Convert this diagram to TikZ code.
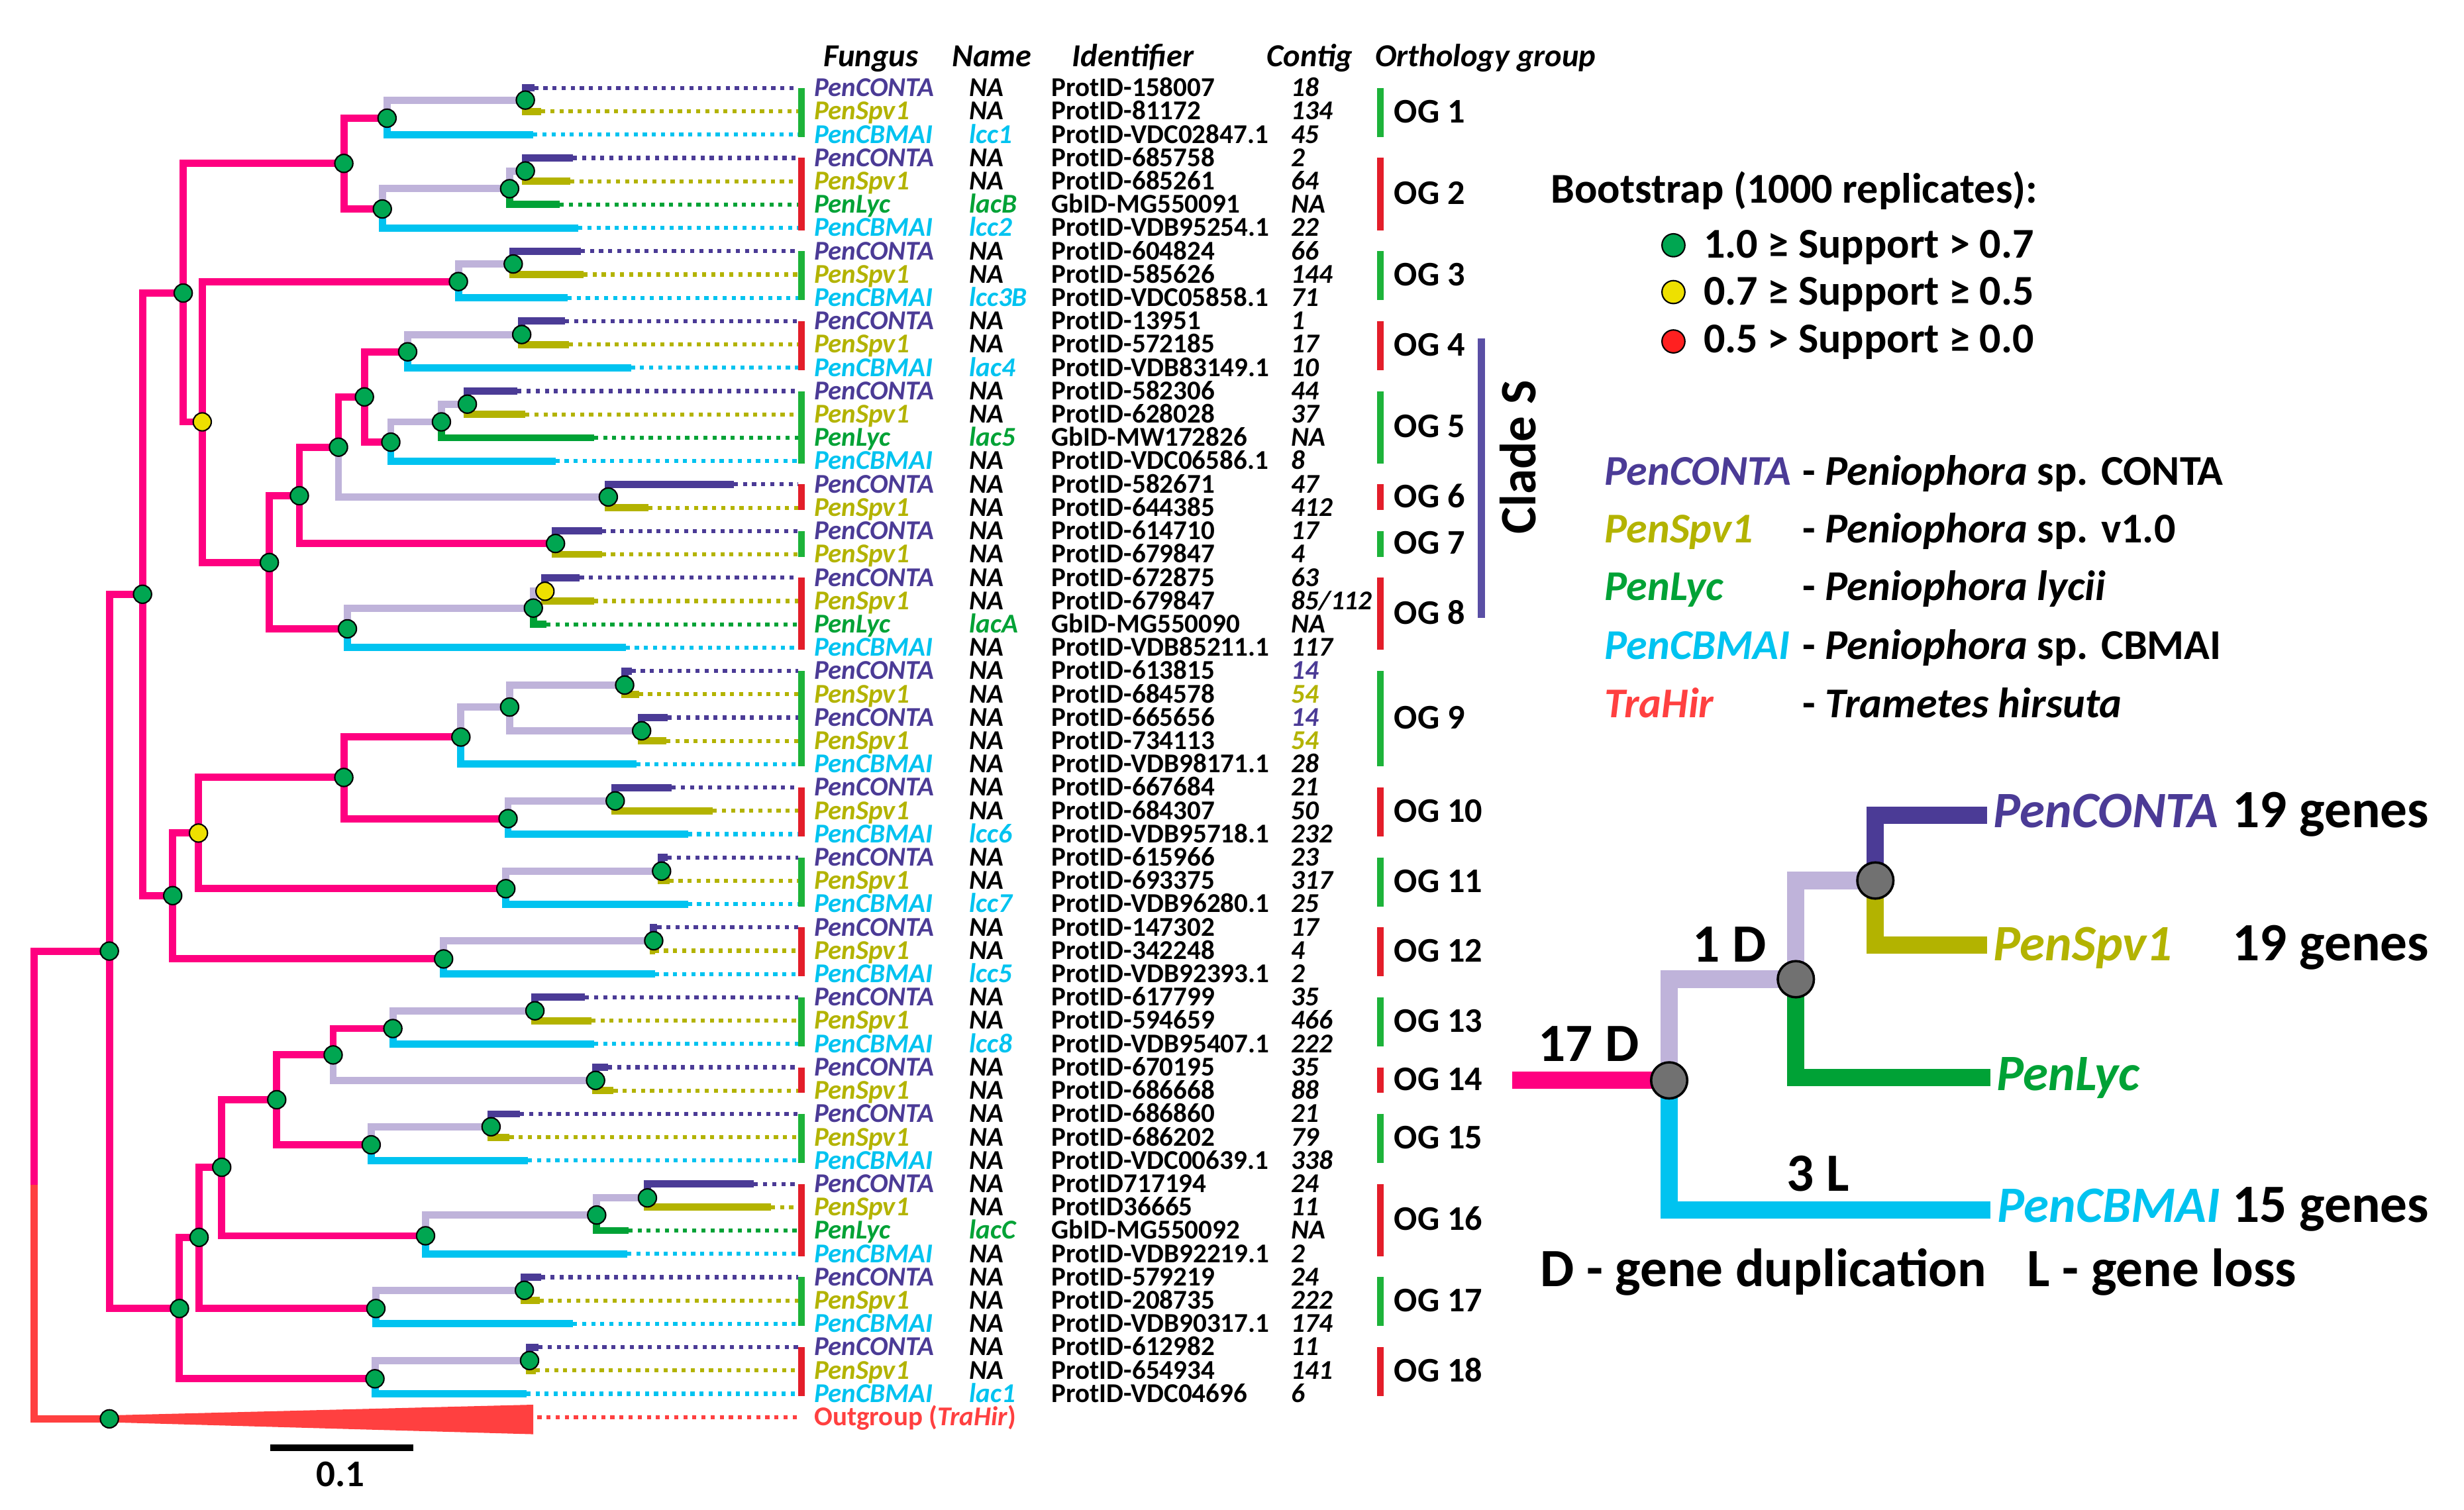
\documentclass[tikz,border=0pt]{standalone}
\usepackage{fontspec}
\setmainfont{Carlito}
\definecolor{cpink}{HTML}{FF0080}
\definecolor{clav}{HTML}{BFB3DA}
\definecolor{ccon}{HTML}{4B3B96}
\definecolor{cspv}{HTML}{B3B300}
\definecolor{clyc}{HTML}{00A236}
\definecolor{ccb}{HTML}{00C3F0}
\definecolor{cout}{HTML}{FF4040}
\definecolor{ngreen}{HTML}{00A651}
\definecolor{nyellow}{HTML}{EEE000}
\definecolor{nred}{HTML}{FF2020}
\definecolor{bgreen}{HTML}{1DB33A}
\definecolor{bred}{HTML}{E31E2A}
\definecolor{cclade}{HTML}{5A4FA5}
\definecolor{ngrey}{HTML}{717171}
\newcommand\fsz[1]{\fontsize{#1pt}{#1pt}\selectfont\bfseries}
\pgfmathdeclarefunction{ry}{1}{\pgfmathparse{56+14.84*#1}}
\tikzset{
  br/.style={line width=4.6pt},
  dotl/.style={line width=2.6pt, dash pattern=on 2.6pt off 3.2pt},
  bsn/.style={circle, draw=black, line width=0.9pt, minimum size=11.5pt, inner sep=0pt, fill=ngreen},
  bsy/.style={bsn, fill=nyellow},
  tt/.style={font=\fsz{17.3}, anchor=base west, inner sep=0pt},
  tti/.style={font=\fsz{17.3}\itshape, anchor=base west, inner sep=0pt},
  hdr/.style={font=\fsz{20.4}\itshape, anchor=base west, inner sep=0pt},
  oglab/.style={font=\fsz{22}, anchor=base west, inner sep=0pt},
  ogbar/.style={line width=4pt},
  lgd/.style={font=\fsz{27}, anchor=base west, inner sep=0pt},
  big/.style={font=\fsz{32.5}, inner sep=0pt},
  bigger/.style={font=\fsz{34.3}, inner sep=0pt},
  thick br/.style={line width=11pt},
  gnode/.style={circle, draw=black, line width=1.5pt, minimum size=23pt, inner sep=0pt, fill=ngrey},
}
\newcommand\trow[6]{%
  \node[tti, text=#2] (fu#1) at (518,{ry(#1)+5.4}) {#3};
  \node[tti] (na#1) at (616.7,{ry(#1)+5.4}) {#4};
  \node[tt] (id#1) at (669,{ry(#1)+5.4}) {#5};
  \node[tti] (co#1) at (821.6,{ry(#1)+5.4}) {#6};}
\newcommand\rc[4]{\trow{#1}{ccon}{PenCONTA}{#2}{#3}{#4}}
\newcommand\rs[4]{\trow{#1}{cspv}{PenSpv1}{#2}{#3}{#4}}
\newcommand\rl[4]{\trow{#1}{clyc}{PenLyc}{#2}{#3}{#4}}
\newcommand\rb[4]{\trow{#1}{ccb}{PenCBMAI}{#2}{#3}{#4}}
\newcommand\tip[4]{%
  \coordinate (t#1) at (#3,{ry(#1)});
  \draw[br,#4] (#2) |- (t#1);
  \draw[dotl,#4] (t#1) -- (t#1 -| lb);}
\newcommand\edge[3]{\draw[br,#3] (#1) |- (#2);}
\begin{document}
\begin{tikzpicture}[x=1pt,y=-1pt]
\useasboundingbox (0,0) rectangle (1568,961);
\fill[white] (0,0) rectangle (1568,961);
\coordinate (lb) at (508,0);
% internal coordinates
\coordinate (R) at (21.8,754);
\coordinate (IN) at (69.6,605.3);
\coordinate (OUTN) at (69.6,903);
\coordinate (A1) at (90.7,378.2);
\coordinate (A2) at (109.9,570);
\coordinate (B1) at (116.6,186.5);
\coordinate (C1) at (218.8,104);
\coordinate (OG1r) at (246.3,75.2);
\coordinate (OG1i) at (334.3,63.7);
\coordinate (OG2r) at (243.3,133);
\coordinate (OG2a) at (324.3,120.1);
\coordinate (OG2b) at (334.3,108.8);
\coordinate (Y1) at (128.7,268.5);
\coordinate (OG3r) at (291.7,179.2);
\coordinate (OG3i) at (326.6,168);
\coordinate (D1) at (171.4,358);
\coordinate (D2) at (190.5,315.5);
\coordinate (D3) at (215.4,284.6);
\coordinate (D4) at (231.9,252.6);
\coordinate (OG4r) at (259.4,223.9);
\coordinate (OG4i) at (332,212.9);
\coordinate (OG5r) at (248.7,281.4);
\coordinate (OG5a) at (280.9,268.5);
\coordinate (OG5b) at (297.4,257.2);
\coordinate (OG6) at (387.1,316.3);
\coordinate (OG7) at (353.5,345.9);
\coordinate (OG8r) at (221.1,400.2);
\coordinate (OG8a) at (339.4,387);
\coordinate (OG8b) at (346.8,376.3);
\coordinate (Y2) at (126.3,530.2);
\coordinate (E1) at (218.8,494.8);
\coordinate (OG9r) at (293.3,469.1);
\coordinate (OG9a) at (324.3,450);
\coordinate (OG9b) at (397.5,436);
\coordinate (OG9c) at (408.3,465.1);
\coordinate (OG10r) at (323.3,521);
\coordinate (OG10i) at (391.5,509.7);
\coordinate (OG11r) at (321.9,565.6);
\coordinate (OG11i) at (421,554.4);
\coordinate (OG12r) at (282.3,610.3);
\coordinate (OG12i) at (416,598.7);
\coordinate (A3) at (114.2,832.8);
\coordinate (A4) at (126.7,787.5);
\coordinate (A5) at (141.1,742.9);
\coordinate (A6) at (176.1,699.9);
\coordinate (A7) at (212,671.4);
\coordinate (OG13r) at (250,654.6);
\coordinate (OG13i) at (340.4,643.3);
\coordinate (OG14) at (379,687.6);
\coordinate (OG15r) at (236.2,728.6);
\coordinate (OG15i) at (312.5,717.1);
\coordinate (OG16r) at (270.8,786.5);
\coordinate (OG16a) at (379.7,773.3);
\coordinate (OG16b) at (412,762.4);
\coordinate (OG17r) at (239.2,832.8);
\coordinate (OG17i) at (333.7,821.2);
\coordinate (OG18r) at (238.6,877.5);
\coordinate (OG18i) at (337,865.9);
% root and outgroup
\edge{R}{IN}{cpink}
\edge{R}{OUTN}{cout}
\fill[cout] (69.6,900.8) -- (339.4,894) -- (339.4,912.8) -- (69.6,905.2) -- cycle;
\coordinate (tout) at (342,{ry(57)});
\draw[dotl,cout] (tout) -- (tout -| lb);
% internal edges
\edge{IN}{A1}{cpink} \edge{IN}{A3}{cpink}
\edge{A1}{B1}{cpink} \edge{A1}{A2}{cpink}
\edge{B1}{C1}{cpink} \edge{B1}{Y1}{cpink}
\edge{C1}{OG1r}{cpink} \edge{C1}{OG2r}{cpink}
\edge{OG1r}{OG1i}{clav}
\edge{OG2r}{OG2a}{clav} \edge{OG2a}{OG2b}{clav}
\edge{Y1}{OG3r}{cpink} \edge{Y1}{D1}{cpink}
\edge{OG3r}{OG3i}{clav}
\edge{D1}{D2}{cpink} \edge{D1}{OG8r}{cpink}
\edge{D2}{D3}{cpink} \edge{D2}{OG7}{cpink}
\edge{D3}{D4}{cpink} \edge{D3}{OG6}{clav}
\edge{D4}{OG4r}{cpink} \edge{D4}{OG5r}{cpink}
\edge{OG4r}{OG4i}{clav}
\edge{OG5r}{OG5a}{clav} \edge{OG5a}{OG5b}{clav}
\edge{OG8r}{OG8a}{clav} \edge{OG8a}{OG8b}{clav}
\edge{A2}{Y2}{cpink} \edge{A2}{OG12r}{cpink}
\edge{Y2}{E1}{cpink} \edge{Y2}{OG11r}{cpink}
\edge{E1}{OG9r}{cpink} \edge{E1}{OG10r}{cpink}
\edge{OG9r}{OG9a}{clav} \edge{OG9a}{OG9b}{clav} \edge{OG9a}{OG9c}{clav}
\edge{OG10r}{OG10i}{clav}
\edge{OG11r}{OG11i}{clav}
\edge{OG12r}{OG12i}{clav}
\edge{A3}{A4}{cpink} \edge{A3}{OG18r}{cpink}
\edge{A4}{A5}{cpink} \edge{A4}{OG17r}{cpink}
\edge{A5}{A6}{cpink} \edge{A5}{OG16r}{cpink}
\edge{A6}{A7}{cpink} \edge{A6}{OG15r}{cpink}
\edge{A7}{OG13r}{cpink} \edge{A7}{OG14}{clav}
\edge{OG13r}{OG13i}{clav}
\edge{OG15r}{OG15i}{clav}
\edge{OG16r}{OG16a}{clav} \edge{OG16a}{OG16b}{clav}
\edge{OG17r}{OG17i}{clav}
\edge{OG18r}{OG18i}{clav}
% tips
\tip{0}{OG1i}{340}{ccon} \tip{1}{OG1i}{344.4}{cspv} \tip{2}{OG1r}{339.4}{ccb}
\tip{3}{OG2b}{364.6}{ccon} \tip{4}{OG2b}{362.9}{cspv} \tip{5}{OG2a}{356.2}{clyc} \tip{6}{OG2r}{368}{ccb}
\tip{7}{OG3i}{369.6}{ccon} \tip{8}{OG3i}{371.3}{cspv} \tip{9}{OG3r}{361.2}{ccb}
\tip{10}{OG4i}{359.5}{ccon} \tip{11}{OG4i}{362.2}{cspv} \tip{12}{OG4r}{401.5}{ccb}
\tip{13}{OG5b}{329.3}{ccon} \tip{14}{OG5b}{334.3}{cspv} \tip{15}{OG5a}{378}{clyc} \tip{16}{OG5r}{353.5}{ccb}
\tip{17}{OG6}{467}{ccon} \tip{18}{OG6}{412.6}{cspv}
\tip{19}{OG7}{383}{ccon} \tip{20}{OG7}{383}{cspv}
\tip{21}{OG8b}{369}{ccon} \tip{22}{OG8b}{378}{cspv} \tip{23}{OG8a}{347.8}{clyc} \tip{24}{OG8r}{398.2}{ccb}
\tip{25}{OG9b}{402}{ccon} \tip{26}{OG9b}{406.6}{cspv} \tip{27}{OG9c}{425}{ccon} \tip{28}{OG9c}{424}{cspv} \tip{29}{OG9r}{404.9}{ccb}
\tip{30}{OG10i}{427.4}{ccon} \tip{31}{OG10i}{453.6}{cspv} \tip{32}{OG10r}{437.8}{ccb}
\tip{33}{OG11i}{425}{ccon} \tip{34}{OG11i}{426}{cspv} \tip{35}{OG11r}{437.8}{ccb}
\tip{36}{OG12i}{418.3}{ccon} \tip{37}{OG12i}{416.7}{cspv} \tip{38}{OG12r}{416.7}{ccb}
\tip{39}{OG13i}{372.3}{ccon} \tip{40}{OG13i}{376.3}{cspv} \tip{41}{OG13r}{378}{ccb}
\tip{42}{OG14}{387}{ccon} \tip{43}{OG14}{390.5}{cspv}
\tip{44}{OG15i}{331}{ccon} \tip{45}{OG15i}{324.3}{cspv} \tip{46}{OG15r}{336}{ccb}
\tip{47}{OG16b}{479.8}{ccon} \tip{48}{OG16b}{490.6}{cspv} \tip{49}{OG16a}{399.9}{clyc} \tip{50}{OG16r}{399.2}{ccb}
\tip{51}{OG17i}{344.4}{ccon} \tip{52}{OG17i}{343.4}{cspv} \tip{53}{OG17r}{364.6}{ccb}
\tip{54}{OG18i}{342.7}{ccon} \tip{55}{OG18i}{341}{cspv} \tip{56}{OG18r}{335}{ccb}
% support nodes
\foreach \p in {IN,OUTN,A1,A2,B1,C1,OG1r,OG1i,OG2r,OG2a,OG2b,OG3r,OG3i,D1,D2,D3,D4,OG4r,OG4i,OG5r,OG5a,OG5b,OG6,OG7,OG8r,OG8a,E1,OG9r,OG9a,OG9b,OG9c,OG10r,OG10i,OG11r,OG11i,OG12r,OG12i,A3,A4,A5,A6,A7,OG13r,OG13i,OG14,OG15r,OG15i,OG16r,OG16a,OG16b,OG17r,OG17i,OG18r,OG18i}
  \node[bsn] (n-\p) at (\p) {};
\foreach \p in {Y1,Y2,OG8b}
  \node[bsy] (n-\p) at (\p) {};
% scale bar
\coordinate (sb1) at (172,921.5); \coordinate (sb2) at (263,921.5);
\draw[line width=4pt] (sb1) -- (sb2);
\node[font=\fsz{24}, anchor=base, inner sep=0pt] (sbl) at (216.7,946) {0.1};
% headers
\node[hdr] (h1) at (524,42.2) {Fungus};
\node[hdr] (h2) at (605.7,42.2) {Name};
\node[hdr] (h3) at (682.2,42.2) {Identifier};
\node[hdr] (h4) at (806,42.2) {Contig};
\node[hdr] (h5) at (875,42.2) {Orthology group};
% table
\rc{0}{NA}{ProtID-158007}{18}
\rs{1}{NA}{ProtID-81172}{134}
\rb{2}{\textcolor{ccb}{lcc1}}{ProtID-VDC02847.1}{45}
\rc{3}{NA}{ProtID-685758}{2}
\rs{4}{NA}{ProtID-685261}{64}
\rl{5}{\textcolor{clyc}{lacB}}{GbID-MG550091}{NA}
\rb{6}{\textcolor{ccb}{lcc2}}{ProtID-VDB95254.1}{22}
\rc{7}{NA}{ProtID-604824}{66}
\rs{8}{NA}{ProtID-585626}{144}
\rb{9}{\textcolor{ccb}{lcc3B}}{ProtID-VDC05858.1}{71}
\rc{10}{NA}{ProtID-13951}{1}
\rs{11}{NA}{ProtID-572185}{17}
\rb{12}{\textcolor{ccb}{lac4}}{ProtID-VDB83149.1}{10}
\rc{13}{NA}{ProtID-582306}{44}
\rs{14}{NA}{ProtID-628028}{37}
\rl{15}{\textcolor{clyc}{lac5}}{GbID-MW172826}{NA}
\rb{16}{NA}{ProtID-VDC06586.1}{8}
\rc{17}{NA}{ProtID-582671}{47}
\rs{18}{NA}{ProtID-644385}{412}
\rc{19}{NA}{ProtID-614710}{17}
\rs{20}{NA}{ProtID-679847}{4}
\rc{21}{NA}{ProtID-672875}{63}
\rs{22}{NA}{ProtID-679847}{85/112}
\rl{23}{\textcolor{clyc}{lacA}}{GbID-MG550090}{NA}
\rb{24}{NA}{ProtID-VDB85211.1}{117}
\rc{25}{NA}{ProtID-613815}{\textcolor{ccon}{14}}
\rs{26}{NA}{ProtID-684578}{\textcolor{cspv}{54}}
\rc{27}{NA}{ProtID-665656}{\textcolor{ccon}{14}}
\rs{28}{NA}{ProtID-734113}{\textcolor{cspv}{54}}
\rb{29}{NA}{ProtID-VDB98171.1}{28}
\rc{30}{NA}{ProtID-667684}{21}
\rs{31}{NA}{ProtID-684307}{50}
\rb{32}{\textcolor{ccb}{lcc6}}{ProtID-VDB95718.1}{232}
\rc{33}{NA}{ProtID-615966}{23}
\rs{34}{NA}{ProtID-693375}{317}
\rb{35}{\textcolor{ccb}{lcc7}}{ProtID-VDB96280.1}{25}
\rc{36}{NA}{ProtID-147302}{17}
\rs{37}{NA}{ProtID-342248}{4}
\rb{38}{\textcolor{ccb}{lcc5}}{ProtID-VDB92393.1}{2}
\rc{39}{NA}{ProtID-617799}{35}
\rs{40}{NA}{ProtID-594659}{466}
\rb{41}{\textcolor{ccb}{lcc8}}{ProtID-VDB95407.1}{222}
\rc{42}{NA}{ProtID-670195}{35}
\rs{43}{NA}{ProtID-686668}{88}
\rc{44}{NA}{ProtID-686860}{21}
\rs{45}{NA}{ProtID-686202}{79}
\rb{46}{NA}{ProtID-VDC00639.1}{338}
\rc{47}{NA}{ProtID717194}{24}
\rs{48}{NA}{ProtID36665}{11}
\rl{49}{\textcolor{clyc}{lacC}}{GbID-MG550092}{NA}
\rb{50}{NA}{ProtID-VDB92219.1}{2}
\rc{51}{NA}{ProtID-579219}{24}
\rs{52}{NA}{ProtID-208735}{222}
\rb{53}{NA}{ProtID-VDB90317.1}{174}
\rc{54}{NA}{ProtID-612982}{11}
\rs{55}{NA}{ProtID-654934}{141}
\rb{56}{\textcolor{ccb}{lac1}}{ProtID-VDC04696}{6}
\node[tt, text=cout] (fu57) at (518,{ry(57)+5.4}) {Outgroup (\textit{TraHir})};
% orthology group bars
\foreach \g/\a/\b/\c in {1/0/2/bgreen,2/3/6/bred,3/7/9/bgreen,4/10/12/bred,5/13/16/bgreen,6/17/18/bred,7/19/20/bgreen,8/21/24/bred,9/25/29/bgreen,10/30/32/bred,11/33/35/bgreen,12/36/38/bred,13/39/41/bgreen,14/42/43/bred,15/44/46/bgreen,16/47/50/bred,17/51/53/bgreen,18/54/56/bred}{
  \draw[ogbar,\c] (510,{ry(\a)}) -- (510,{ry(\b)+1.5});
  \draw[ogbar,\c] (878.5,{ry(\a)}) -- (878.5,{ry(\b)+1.5});
  \node[oglab] (og\g) at (887,{(ry(\a)+ry(\b))/2+7.3}) {OG \g};
}
% clade S
\draw[line width=4.4pt, cclade] (942.6,215.3) -- (942.6,393.2);
\node[font=\fsz{32.5}, rotate=90, inner sep=0pt] (clade) at (966,291) {Clade S};
% bootstrap legend
\node[lgd] (bst) at (986.7,129) {Bootstrap (1000 replicates):};
\node[bsn, minimum size=14.6pt] (lg1) at (1064.9,156.1) {};
\node[bsn, minimum size=14.6pt, fill=nyellow] (lg2) at (1064.9,185.9) {};
\node[bsn, minimum size=14.6pt, fill=nred] (lg3) at (1064.9,217.3) {};
\node[lgd] (lt1) at (1084,164.1) {1.0 ≥ Support > 0.7};
\node[lgd] (lt2) at (1084,193.9) {0.7 ≥ Support ≥ 0.5};
\node[lgd] (lt3) at (1084,224.6) {0.5 > Support ≥ 0.0};
% species legend
\node[lgd, text=ccon] (sp1) at (1021,308.8) {\itshape PenCONTA};
\node[lgd] (sd1) at (1147,308.8) {- \textit{Peniophora} sp. CONTA};
\node[lgd, text=cspv] (sp2) at (1021,345.6) {\itshape PenSpv1};
\node[lgd] (sd2) at (1147,345.6) {- \textit{Peniophora} sp. v1.0};
\node[lgd, text=clyc] (sp3) at (1021,381.9) {\itshape PenLyc};
\node[lgd] (sd3) at (1147,381.9) {- \textit{Peniophora lycii}};
\node[lgd, text=ccb] (sp4) at (1021,419.4) {\itshape PenCBMAI};
\node[lgd] (sd4) at (1147,419.4) {- \textit{Peniophora} sp. CBMAI};
\node[lgd, text=cout] (sp5) at (1021,456.9) {\itshape TraHir};
\node[lgd] (sd5) at (1147,456.9) {- \textit{Trametes hirsuta}};
% species tree
\coordinate (s0) at (962.2,687.6);
\coordinate (s1) at (1062.2,687.6);
\coordinate (s2) at (1142.8,623.2);
\coordinate (s3) at (1193.4,560.4);
\coordinate (sCON) at (1264.6,518.9);
\coordinate (sSPV) at (1264.6,601.6);
\coordinate (sLYC) at (1266.5,685.8);
\coordinate (sCB) at (1266.5,770.2);
\draw[thick br, cpink] (s0) -- (s1);
\draw[thick br, clav] (s1) |- (s2);
\draw[thick br, ccb] (s1) |- (sCB);
\draw[thick br, clav] (s2) |- (s3);
\draw[thick br, clyc] (s2) |- (sLYC);
\draw[thick br, ccon] (s3) |- (sCON);
\draw[thick br, cspv] (s3) |- (sSPV);
\node[gnode] (g1) at (s1) {};
\node[gnode] (g2) at (s2) {};
\node[gnode] (g3) at (s3) {};
\node[big, anchor=base west, text=ccon] (lc) at (1268.5,526.6) {\itshape PenCONTA};
\node[big, anchor=base west, text=cspv] (ls) at (1268.5,611.5) {\itshape PenSpv1};
\node[big, anchor=base west, text=clyc] (ll) at (1270.6,694.2) {\itshape PenLyc};
\node[big, anchor=base west, text=ccb] (lb2) at (1271,778) {\itshape PenCBMAI};
\node[bigger, anchor=base west] (gn1) at (1420.5,526.6) {19 genes};
\node[bigger, anchor=base west] (gn2) at (1420.5,611.5) {19 genes};
\node[bigger, anchor=base west] (gn3) at (1420.5,778) {15 genes};
\node[bigger, anchor=base] (d17) at (1011,675.4) {17 D};
\node[bigger, anchor=base] (d1) at (1100.5,612.2) {1 D};
\node[bigger, anchor=base] (l3) at (1157,758.1) {3 L};
\node[bigger, anchor=base west] (key1) at (980,818.7) {D - gene duplication};
\node[bigger, anchor=base west] (key2) at (1290,818.7) {L - gene loss};
\end{tikzpicture}
\end{document}
